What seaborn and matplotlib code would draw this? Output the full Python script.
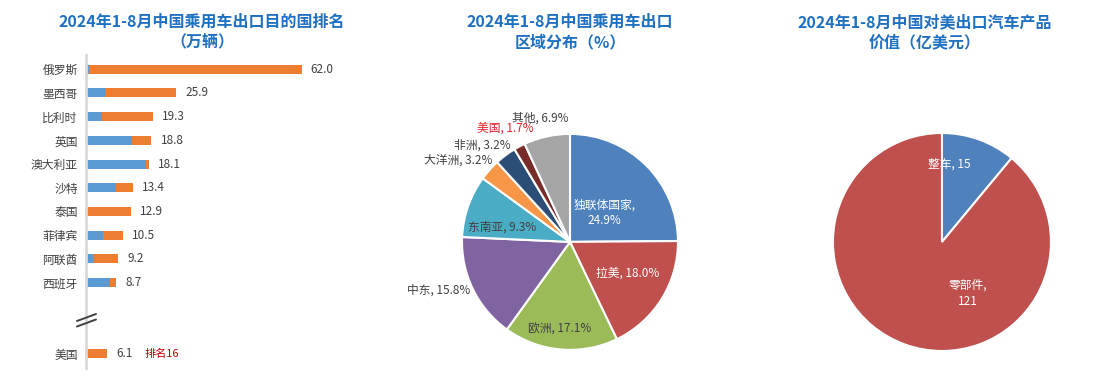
import pandas as pd
import matplotlib
matplotlib.use('Agg')
import matplotlib.pyplot as plt
import seaborn as sns
from matplotlib.lines import Line2D

# --- Data ---
countries = ['俄罗斯', '墨西哥', '比利时', '英国', '澳大利亚', '沙特', '泰国', '菲律宾', '阿联酋', '西班牙', '美国']
totals = [62.0, 25.9, 19.3, 18.8, 18.1, 13.4, 12.9, 10.5, 9.2, 8.7, 6.1]
blue_part = [0.9, 5.5, 4.5, 13.2, 17.1, 8.6, 0.4, 5.0, 2.1, 6.9, 0.3]

regions = ['独联体国家', '拉美', '欧洲', '中东', '东南亚', '大洋洲', '非洲', '美国', '其他']
region_share = [24.9, 18.0, 17.1, 15.8, 9.3, 3.2, 3.2, 1.7, 6.9]

us_products = ['整车', '零部件']
us_values = [15, 121]

# --- Style ---
sns.set_style('white')
plt.rcParams['font.family'] = ['Noto Sans CJK SC', 'DejaVu Sans']
plt.rcParams['axes.unicode_minus'] = False

BLUE = '#5B9BD5'
ORANGE = '#ED7D31'
TITLE_C = '#1F70C1'
TEXT_C = '#404040'
pie_colors = ['#4F81BD', '#C0504D', '#9BBB59', '#8064A2', '#4BACC6',
              '#F79646', '#2C4D75', '#772C2A', '#A5A5A5']

fig = plt.figure(figsize=(11.11, 3.9), dpi=100)

# -------------------------------
# Left: stacked bar chart
df = pd.DataFrame({'country': countries, 'total': totals, 'blue': blue_part})
order = countries[:10] + ['gap1', 'gap2'] + ['美国']

ax1 = fig.add_axes([0.0774, 0.0564, 0.235, 0.8026])
sns.barplot(data=df, y='country', x='total', order=order, color=ORANGE,
            width=0.38, saturation=1, linewidth=0, ax=ax1)
sns.barplot(data=df, y='country', x='blue', order=order, color=BLUE,
            width=0.38, saturation=1, linewidth=0, ax=ax1)
ax1.set_xlim(0, 75)
ax1.set_ylim(12.6, -0.6)
ax1.set_yticks(range(len(order)))
ax1.set_yticklabels([c if not c.startswith('gap') else '' for c in order],
                    fontsize=8.5, color=TEXT_C)
ax1.tick_params(axis='y', length=0, pad=6)
ax1.set_xticks([])
ax1.set_xlabel('')
ax1.set_ylabel('')
for s in ['top', 'right', 'bottom']:
    ax1.spines[s].set_visible(False)
ax1.spines['left'].set_color('#D9D9D9')
ax1.spines['left'].set_linewidth(2)

for c, t in zip(countries, totals):
    ax1.annotate(f'{t:.1f}', xy=(t, order.index(c)), xytext=(6.5, 0),
                 textcoords='offset points', va='center', ha='left',
                 fontsize=8.5, color=TEXT_C)
ax1.annotate('排名16', xy=(totals[-1], order.index('美国')), xytext=(26.5, 0),
             textcoords='offset points', va='center', ha='left',
             fontsize=8, color='#C00000')

# axis break marks
for y0 in [321, 326.5]:
    fig.add_artist(Line2D([77 / 1111, 96 / 1111], [1 - y0 / 390, 1 - (y0 - 7) / 390],
                          transform=fig.transFigure, color=TEXT_C, lw=1.4))

# -------------------------------
# Middle: region pie
ax2 = fig.add_axes([0.3867, 0.0195, 0.2527, 0.7205])
wedges, _ = ax2.pie(region_share, colors=pie_colors, startangle=90, counterclock=False,
                    wedgeprops={'edgecolor': 'white', 'linewidth': 1.5})
ax2.set_xlim(-1.3, 1.3)
ax2.set_ylim(-1.3, 1.3)
ax2.set_aspect('equal')

label_pos = [(0.32, 0.27), (0.53, -0.29), (-0.10, -0.81), (-1.22, -0.45), (-0.63, 0.14),
             (-1.04, 0.76), (-0.81, 0.90), (-0.60, 1.05), (-0.28, 1.15)]
label_col = ['white', 'white', TEXT_C, TEXT_C, TEXT_C, TEXT_C, TEXT_C, '#E0242A', TEXT_C]
for name, v, (lx, ly), lc in zip(regions, region_share, label_pos, label_col):
    txt = f'{name},\n{v:.1f}%' if name == '独联体国家' else f'{name}, {v:.1f}%'
    ax2.text(lx, ly, txt, ha='center', va='center', fontsize=8.5, color=lc,
             linespacing=1.3)

# -------------------------------
# Right: US export value pie
ax3 = fig.add_axes([0.7203, 0.0162, 0.2551, 0.7267])
ax3.pie(us_values, colors=['#4F81BD', '#C0504D'], startangle=90, counterclock=False,
        wedgeprops={'edgecolor': 'white', 'linewidth': 1.5})
ax3.set_xlim(-1.3, 1.3)
ax3.set_ylim(-1.3, 1.3)
ax3.set_aspect('equal')
ax3.text(0.07, 0.71, f'{us_products[0]}, {us_values[0]}', ha='center', va='center',
         fontsize=8.5, color='white')
ax3.text(0.24, -0.47, f'{us_products[1]},\n{us_values[1]}', ha='center', va='center',
         fontsize=8.5, color='white', linespacing=1.3)

# -------------------------------
# Titles
titles = [(0.182, '2024年1-8月中国乘用车出口目的国排名', '（万辆）'),
          (0.513, '2024年1-8月中国乘用车出口', '区域分布（%）'),
          (0.8326, '2024年1-8月中国对美出口汽车产品', '价值（亿美元）')]
for x, l1, l2 in titles:
    fig.text(x, 1 - 22 / 390, l1, ha='center', va='center', fontsize=11.5,
             fontweight='bold', color=TITLE_C)
    fig.text(x, 1 - 42 / 390, l2, ha='center', va='center', fontsize=11.5,
             fontweight='bold', color=TITLE_C)

fig.savefig('out.png', dpi=100)
